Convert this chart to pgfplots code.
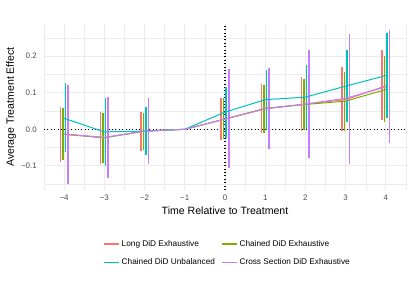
\documentclass[border=0pt]{standalone}
\usepackage{fontspec}
\setmainfont{Liberation Sans}
\usepackage{pgfplots}
\usepackage{pgfplotstable}
\pgfplotsset{compat=1.18}
\definecolor{cred}{HTML}{F8766D}
\definecolor{cgreen}{HTML}{7CAE00}
\definecolor{cteal}{HTML}{00BFC4}
\definecolor{cpurple}{HTML}{C77CFF}
\definecolor{gridc}{HTML}{EBEBEB}
\definecolor{tickc}{HTML}{4D4D4D}
% error bars: x lo hi
\pgfplotstableread{
x lo hi
-4 -0.084 0.057
-3 -0.091 0.044
-2 -0.055 0.044
0 -0.026 0.080
1 -0.006 0.120
2 -0.001 0.139
3 0.000 0.167
4 0.030 0.213
}\errred
\pgfplotstableread{
x lo hi
-4 -0.080 0.053
-3 -0.088 0.041
-2 -0.052 0.041
0 -0.022 0.080
1 -0.007 0.118
2 0.003 0.134
3 0.000 0.153
4 0.023 0.196
}\errgreen
\pgfplotstableread{
x lo hi
-4 -0.059 0.123
-3 -0.097 0.081
-2 -0.066 0.057
0 -0.020 0.112
1 0.002 0.159
2 0.005 0.171
3 0.024 0.213
4 0.036 0.259
}\errteal
\pgfplotstableread{
x lo hi
-4 -0.144 0.118
-3 -0.129 0.083
-2 -0.091 0.080
0 -0.102 0.160
1 -0.049 0.162
2 -0.075 0.213
3 -0.091 0.256
4 -0.034 0.266
}\errpurple
\pgfplotsset{
  errbar/.style 2 args={draw=none, mark=none, forget plot,
    error bars/.cd, y dir=both, y explicit,
    error bar style={color=#1, line width=1.5bp},
    error mark options={color=#1, line width=1.5bp, mark size=1.6bp}},
}
\begin{document}
\begin{tikzpicture}
\begin{axis}[
  scale only axis, width=362bp, height=166bp,
  xmin=-4.5, xmax=4.5, ymin=-0.166, ymax=0.288,
  axis line style={draw=none},
  major tick length=0pt, minor tick length=0pt,
  xtick={-4,...,4}, xticklabels={−4,−3,−2,−1,0,1,2,3,4},
  ytick={-0.1,0,0.1,0.2}, yticklabels={−0.1,0.0,0.1,0.2},
  minor xtick={-4.5,-3.5,...,4.5},
  minor ytick={-0.15,-0.05,0.05,0.15,0.25},
  grid=both,
  major grid style={color=gridc, line width=0.8bp},
  minor grid style={color=gridc, line width=0.4bp},
  /pgf/number format/assume math mode=true,
  tick label style={font=\fontsize{8}{10}\selectfont, text=tickc},
  xticklabel style={inner sep=0pt, anchor=north, yshift=-5bp},
  yticklabel style={inner sep=0pt, anchor=east, xshift=-7bp},
  xlabel={Time Relative to Treatment},
  ylabel={Average Treatment Effect},
  every axis x label/.style={at={(axis description cs:0.5,-0.1265)}, anchor=center, font=\fontsize{10.6}{12}\selectfont},
  every axis y label/.style={at={(axis description cs:-0.091,0.5)}, rotate=90, anchor=center, font=\fontsize{10.6}{12}\selectfont},
  legend columns=2,
  legend cell align=left,
  legend style={at={(axis description cs:0.507,-0.278)}, anchor=north, draw=none, fill=none,
    font=\fontsize{8.3}{10}\selectfont, row sep=7bp,
    /tikz/every even column/.append style={column sep=4bp}},
  legend image code/.code={\draw[#1, line width=1.5bp] (0bp,0bp) -- (15bp,0bp);},
]
% reference lines
\addplot[forget plot, black, line width=1.1bp, dash pattern=on 1bp off 2.4bp] coordinates {(-4.5,0) (4.5,0)};
\addplot[forget plot, black, line width=1.1bp, dash pattern=on 1bp off 2.4bp] coordinates {(0,-0.166) (0,0.288)};
% error bars
\addplot[errbar={cred}{}] table[x expr=\thisrow{x}-0.094, y expr=(\thisrow{hi}+\thisrow{lo})/2, y error expr=(\thisrow{hi}-\thisrow{lo})/2] {\errred};
\addplot[errbar={cgreen}{}] table[x expr=\thisrow{x}-0.031, y expr=(\thisrow{hi}+\thisrow{lo})/2, y error expr=(\thisrow{hi}-\thisrow{lo})/2] {\errgreen};
\addplot[errbar={cteal}{}] table[x expr=\thisrow{x}+0.031, y expr=(\thisrow{hi}+\thisrow{lo})/2, y error expr=(\thisrow{hi}-\thisrow{lo})/2] {\errteal};
\addplot[errbar={cpurple}{}] table[x expr=\thisrow{x}+0.094, y expr=(\thisrow{hi}+\thisrow{lo})/2, y error expr=(\thisrow{hi}-\thisrow{lo})/2] {\errpurple};
% estimate lines
\addplot[cred, line width=1bp, mark=none] coordinates {(-4,-0.014) (-3,-0.023) (-2,-0.005) (-1,0) (0,0.028) (1,0.057) (2,0.069) (3,0.081) (4,0.119)};
\addlegendentry{Long DiD Exhaustive}
\addplot[cgreen, line width=1bp, mark=none] coordinates {(-4,-0.013) (-3,-0.023) (-2,-0.005) (-1,0) (0,0.028) (1,0.057) (2,0.068) (3,0.077) (4,0.109)};
\addlegendentry{Chained DiD Exhaustive}
\addplot[cteal, line width=1bp, mark=none] coordinates {(-4,0.030) (-3,-0.007) (-2,-0.005) (-1,0) (0,0.047) (1,0.081) (2,0.088) (3,0.118) (4,0.147)};
\addlegendentry{Chained DiD Unbalanced}
\addplot[cpurple, line width=1bp, mark=none] coordinates {(-4,-0.013) (-3,-0.022) (-2,-0.005) (-1,0) (0,0.028) (1,0.056) (2,0.069) (3,0.085) (4,0.116)};
\addlegendentry{Cross Section DiD Exhaustive}
\end{axis}
\pgfresetboundingbox
\path ([shift={(-44bp,-110bp)}]current axis.south west) rectangle ([shift={(369bp,190bp)}]current axis.south west);
\end{tikzpicture}
\end{document}
